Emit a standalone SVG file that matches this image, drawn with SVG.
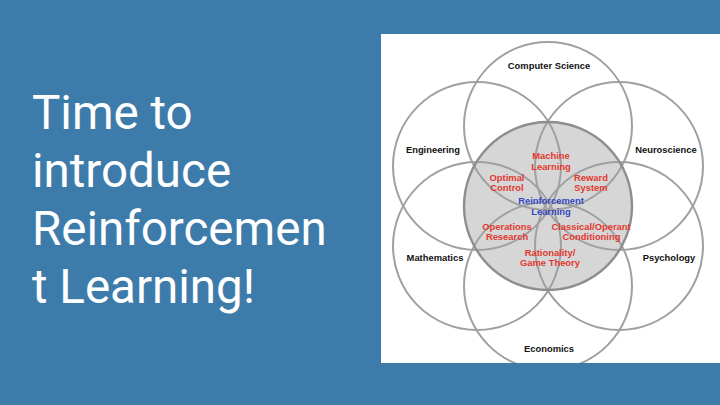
<svg xmlns="http://www.w3.org/2000/svg" width="720" height="405" viewBox="0 0 720 405">
<style>
.title{font-family:Roboto,"Liberation Sans",sans-serif;font-size:47.5px;fill:#ffffff}
.ring{fill:none;stroke:#a0a0a0;stroke-width:2}
.lbl{font-family:"Liberation Sans",Arial,sans-serif;font-size:9.4px;font-weight:bold;text-anchor:middle;fill:#111111}
.red{fill:#e2382e}
.blue{fill:#3447c2}
</style>
<defs>
<clipPath id="panelClip"><rect x="381" y="34" width="339" height="329"/></clipPath>
</defs>
<rect x="0" y="0" width="720" height="405" fill="#3d7caa"/>
<g id="title">
<text class="title" x="32" y="129">Time to</text>
<text class="title" x="32" y="187">introduce</text>
<text class="title" x="32" y="245">Reinforcemen</text>
<text class="title" x="32" y="303">t Learning!</text>
</g>
<rect x="381" y="34" width="339" height="329" fill="#ffffff"/>
<g clip-path="url(#panelClip)">
<circle cx="548" cy="206" r="84" fill="#d6d6d6"/>
<g id="cs"><circle class="ring" cx="548" cy="126" r="84"/></g>
<g id="eng"><circle class="ring" cx="477" cy="166" r="84"/></g>
<g id="neuro"><circle class="ring" cx="619" cy="166" r="84"/></g>
<g id="math"><circle class="ring" cx="477" cy="246" r="84"/></g>
<g id="psych"><circle class="ring" cx="619" cy="246" r="84"/></g>
<g id="econ"><circle class="ring" cx="548" cy="286" r="84"/></g>
<g id="rl"><circle cx="548" cy="206" r="84" fill="none" stroke="#8e8e8e" stroke-width="2.4"/></g>
</g>
<g id="labels">
<text class="lbl" x="549" y="69">Computer Science</text>
<text class="lbl" x="433" y="153">Engineering</text>
<text class="lbl" x="666" y="153">Neuroscience</text>
<text class="lbl" x="435" y="261">Mathematics</text>
<text class="lbl" x="669" y="261">Psychology</text>
<text class="lbl" x="549" y="352">Economics</text>
<text class="lbl red" x="551" y="159">Machine</text>
<text class="lbl red" x="551" y="169.5">Learning</text>
<text class="lbl red" x="507" y="181">Optimal</text>
<text class="lbl red" x="507" y="191">Control</text>
<text class="lbl red" x="591" y="181">Reward</text>
<text class="lbl red" x="591" y="191">System</text>
<text class="lbl blue" x="551" y="204">Reinforcement</text>
<text class="lbl blue" x="551" y="215">Learning</text>
<text class="lbl red" x="507" y="229.5">Operations</text>
<text class="lbl red" x="507" y="240">Research</text>
<text class="lbl red" x="591" y="229.5">Classical/Operant</text>
<text class="lbl red" x="591.5" y="240">Conditioning</text>
<text class="lbl red" x="550" y="255.5">Rationality/</text>
<text class="lbl red" x="550" y="266">Game Theory</text>
</g>
</svg>
